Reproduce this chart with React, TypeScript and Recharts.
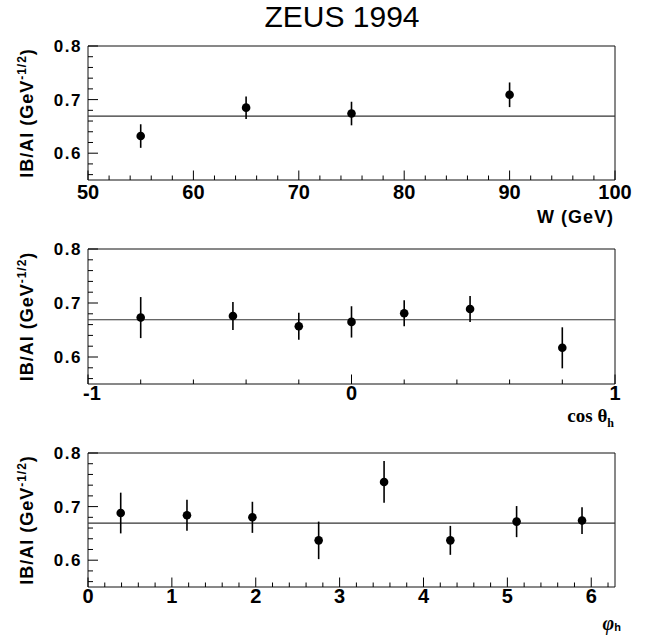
import React from 'react';
import { ScatterChart, Scatter, XAxis, YAxis, ErrorBar, ReferenceLine, ReferenceArea } from 'recharts';

// ---------- data ----------
const chartTitle = 'ZEUS 1994';
const yLabelMain = 'IB/AI (GeV';
const yLabelSup = '-1/2';
const fitValue = 0.669;
const yDomain = [0.55, 0.8];
const yMajor = [0.6, 0.7, 0.8];

const wValues = [55, 65, 75, 90];
const wRatio = [0.632, 0.685, 0.674, 0.709];
const wError = [0.022, 0.021, 0.022, 0.023];
const wDomain = [50, 100];
const wMajor = [50, 60, 70, 80, 90, 100];

const cosValues = [-0.8, -0.45, -0.2, 0, 0.2, 0.45, 0.8];
const cosRatio = [0.673, 0.676, 0.657, 0.665, 0.681, 0.689, 0.617];
const cosError = [0.038, 0.026, 0.025, 0.029, 0.024, 0.024, 0.038];
const cosDomain = [-1, 1];
const cosMajor = [-1, 0, 1];

const phiValues = [0.39, 1.18, 1.96, 2.75, 3.53, 4.32, 5.11, 5.89];
const phiRatio = [0.688, 0.684, 0.68, 0.637, 0.746, 0.637, 0.672, 0.674];
const phiError = [0.038, 0.029, 0.029, 0.035, 0.039, 0.027, 0.029, 0.025];
const phiDomain = [0, 2 * Math.PI];
const phiMajor = [0, 1, 2, 3, 4, 5, 6];

// tick positions (major + minor)
const range = (a: number, b: number, s: number) =>
  Array.from({ length: Math.round((b - a) / s) + 1 }, (_, i) => +(a + i * s).toFixed(4));
const yTicks = range(0.56, 0.8, 0.02);
const wTicks = range(50, 100, 2);
const cosTicks = range(-1, 1, 0.2);
const phiTicks = range(0, 6.2, 0.2);

const isMajor = (v: number, majors: number[]) => majors.some((m) => Math.abs(m - v) < 1e-6);

const toRows = (xs: number[], ys: number[], es: number[]) =>
  xs.map((x, i) => ({ x, y: ys[i], err: es[i] }));

// ---------- styling ----------
const SANS = '"Liberation Sans", Arial, sans-serif';
const SERIF = '"Liberation Serif", "Times New Roman", serif';

const makeXTick = (majors: number[], labelDy: number) => (props: any) => {
  const { x, y, payload } = props;
  const v = payload.value;
  const major = isMajor(v, majors);
  return (
    <g>
      <line x1={x} x2={x} y1={y} y2={y - (major ? 9.5 : 4.5)} stroke="#000" strokeWidth={1} />
      {major && (
        <text
          x={x}
          y={y + labelDy}
          dx={v < 0 ? 4 : 0}
          textAnchor="middle"
          fontFamily={SANS}
          fontWeight="bold"
          fontSize={20}
          fill="#000"
        >
          {String(v)}
        </text>
      )}
    </g>
  );
};

const YTick = (props: any) => {
  const { x, y, payload } = props;
  const v = payload.value;
  const major = isMajor(v, yMajor);
  return (
    <g>
      <line x1={x} x2={x + (major ? 10 : 5)} y1={y} y2={y} stroke="#000" strokeWidth={1} />
      {major && (
        <text
          x={x - 6}
          y={y + 6}
          textAnchor="end"
          fontFamily={SANS}
          fontWeight="bold"
          fontSize={17}
          letterSpacing={1.5}
          fill="#000"
        >
          {v.toFixed(1)}
        </text>
      )}
    </g>
  );
};

const Dot = (props: any) => <circle cx={props.cx} cy={props.cy} r={4.3} fill="#000" />;

type PanelProps = {
  top: number;
  plotH: number;
  rows: { x: number; y: number; err: number }[];
  domain: number[];
  ticks: number[];
  majors: number[];
  labelDy: number;
};

const Panel = ({ top, plotH, rows, domain, ticks, majors, labelDy }: PanelProps) => {
  const H = 46 + plotH + 30;
  return (
    <div style={{ position: 'absolute', left: 0, top, width: 653, height: H }}>
      <ScatterChart width={653} height={H} margin={{ top: 46, right: 38, left: 28, bottom: 0 }}>
        <XAxis
          type="number"
          dataKey="x"
          domain={domain}
          ticks={ticks}
          interval={0}
          height={30}
          tickSize={0}
          tickMargin={0}
          axisLine={false}
          tickLine={false}
          tick={makeXTick(majors, labelDy)}
          allowDataOverflow
        />
        <YAxis
          type="number"
          dataKey="y"
          domain={yDomain}
          ticks={yTicks}
          interval={0}
          width={60}
          tickSize={0}
          tickMargin={0}
          axisLine={false}
          tickLine={false}
          tick={YTick}
          allowDataOverflow
        />
        <ReferenceArea
          x1={domain[0]}
          x2={domain[1]}
          y1={yDomain[0]}
          y2={yDomain[1]}
          fill="none"
          fillOpacity={0}
          stroke="#111"
          strokeWidth={1}
        />
        <ReferenceLine y={fitValue} stroke="#333" strokeWidth={1.2} />
        <Scatter data={rows} shape={Dot} isAnimationActive={false}>
          <ErrorBar dataKey="err" direction="y" width={0} stroke="#000" strokeWidth={1.6} isAnimationActive={false} />
        </Scatter>
      </ScatterChart>
    </div>
  );
};

const YTitle = ({ cy }: { cy: number }) => (
  <text
    x={33}
    y={cy}
    transform={`rotate(-90, 33, ${cy})`}
    textAnchor="middle"
    fontFamily={SANS}
    fontWeight="bold"
    fontSize={18}
    letterSpacing={1}
    fill="#000"
  >
    {yLabelMain}
    <tspan dy={-7} fontSize={12}>{yLabelSup}</tspan>
    <tspan dy={7}>)</tspan>
  </text>
);

export default function App() {
  return (
    <div style={{ position: 'absolute', left: 0, top: 0, width: 653, height: 637, background: '#fff', overflow: 'hidden' }}>
      <Panel top={0} plotH={134} rows={toRows(wValues, wRatio, wError)} domain={wDomain} ticks={wTicks} majors={wMajor} labelDy={19} />
      <Panel top={203} plotH={135} rows={toRows(cosValues, cosRatio, cosError)} domain={cosDomain} ticks={cosTicks} majors={cosMajor} labelDy={16} />
      <Panel top={407} plotH={134} rows={toRows(phiValues, phiRatio, phiError)} domain={phiDomain} ticks={phiTicks} majors={phiMajor} labelDy={16} />
      <svg width={653} height={637} style={{ position: 'absolute', left: 0, top: 0, pointerEvents: 'none' }}>
        <text x={342} y={27} textAnchor="middle" fontFamily={SANS} fontSize={30} fill="#000">
          {chartTitle}
        </text>
        <YTitle cy={113} />
        <YTitle cy={316.5} />
        <YTitle cy={520} />
        <text x={614} y={223} textAnchor="end" fontFamily={SANS} fontWeight="bold" fontSize={18} letterSpacing={1} fill="#000">
          W (GeV)
        </text>
        <text x={614} y={422} textAnchor="end" fontFamily={SERIF} fontWeight="bold" fontSize={19} fill="#000">
          cos θ<tspan dy={5} fontSize={12}>h</tspan>
        </text>
        <text x={621} y={630} textAnchor="end" fontFamily={SERIF} fontWeight="bold" fontStyle="italic" fontSize={20} fill="#000">
          φ<tspan dy={1} fontSize={11} fontStyle="normal" fontFamily={SANS}>h</tspan>
        </text>
      </svg>
    </div>
  );
}
